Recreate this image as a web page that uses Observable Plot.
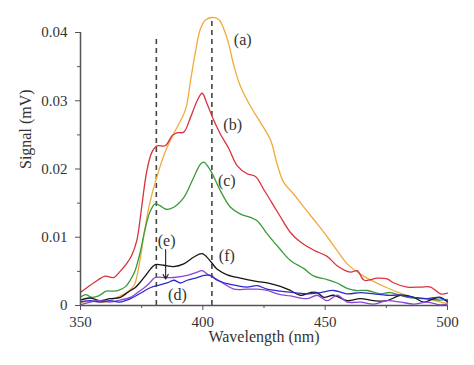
<!DOCTYPE html>
<html>
<head>
<meta charset="utf-8">
<script src="https://cdn.jsdelivr.net/npm/d3@7"></script>
<script src="https://cdn.jsdelivr.net/npm/@observablehq/plot@0.6"></script>
<style>
  html, body { margin: 0; padding: 0; background: #fff; }
  #chart svg { display: block; }
  #chart svg, #chart svg text { font-family: "Liberation Serif", "DejaVu Serif", serif !important; }
</style>
</head>
<body>
<div id="chart"></div>
<script>
// ---- data ----
const xTicks = [350, 400, 450, 500];
const xMinorTicks = [375, 425, 475];
const yTicks = [0, 0.01, 0.02, 0.03, 0.04];
const yMinorTicks = [0.005, 0.015, 0.025, 0.035];

const aWl  = [350, 355, 360, 365, 370, 372, 374, 376, 378, 380.5, 384.6, 388, 392.9, 395, 397, 399, 401, 403.8, 406.5, 408.5, 410.6, 412.7, 415.4, 419.5, 423.6, 427.7, 430.4, 433.1, 437.2, 441.3, 446.7, 451, 455, 459, 464.4, 469.9, 475.3, 480.8, 486.2, 491.7, 497.1, 500];
const aSig = [0.0005, 0.0006, 0.0005, 0.0012, 0.0022, 0.0030, 0.0060, 0.0105, 0.0145, 0.0180, 0.0225, 0.0251, 0.0287, 0.0330, 0.0372, 0.0405, 0.0418, 0.0422, 0.0419, 0.0406, 0.0383, 0.0351, 0.0321, 0.0292, 0.0268, 0.0242, 0.0207, 0.0180, 0.0163, 0.0144, 0.0120, 0.0100, 0.0080, 0.0061, 0.0046, 0.0035, 0.0026, 0.0018, 0.0012, 0.0010, 0.0005, 0.0003];

const bWl  = [350, 353, 357, 360, 363.5, 366.2, 369, 371, 373, 375, 377, 379.1, 381.2, 384.6, 387.5, 389.5, 392.2, 395, 397.7, 399.7, 401.8, 404.5, 407.2, 410.6, 414, 418.1, 421.5, 424.9, 429, 431.7, 435.8, 439.9, 445.4, 450.8, 455, 460.4, 463.1, 466, 471.3, 475.3, 478.1, 483.5, 489, 493.1, 497.1, 500];
const bSig = [0.0019, 0.0027, 0.0037, 0.0043, 0.0041, 0.0050, 0.0062, 0.0074, 0.0095, 0.0144, 0.0195, 0.0224, 0.0234, 0.0234, 0.0249, 0.0253, 0.0254, 0.0276, 0.0300, 0.0311, 0.0295, 0.0271, 0.0251, 0.0230, 0.0205, 0.0193, 0.0189, 0.0170, 0.0146, 0.0130, 0.0107, 0.0093, 0.0081, 0.0072, 0.0058, 0.0049, 0.0051, 0.0037, 0.0040, 0.0039, 0.0033, 0.0027, 0.0027, 0.0027, 0.0017, 0.0018];

const cWl  = [350, 352, 354.6, 357.4, 360.5, 363, 365.5, 368.5, 370.3, 372.3, 374.4, 376.4, 378.5, 380.5, 382.6, 385, 388.1, 392.2, 396.3, 399, 400.4, 403.1, 407.2, 411.3, 415.4, 419.5, 422.2, 426.3, 431.7, 435.8, 441.3, 445.4, 450.8, 454.9, 459, 462.5, 467.2, 472.6, 476.7, 483.5, 490.3, 497.1, 500];
const cSig = [0.0012, 0.0016, 0.0012, 0.0014, 0.0021, 0.0021, 0.0022, 0.0028, 0.0037, 0.0051, 0.0078, 0.0112, 0.0138, 0.0149, 0.0146, 0.0141, 0.0144, 0.0158, 0.0188, 0.0207, 0.0210, 0.0198, 0.0168, 0.0144, 0.0134, 0.0129, 0.0124, 0.0105, 0.0082, 0.0066, 0.0054, 0.0043, 0.0038, 0.0033, 0.0025, 0.0022, 0.0022, 0.0017, 0.0019, 0.0012, 0.0010, 0.0008, 0.0009];

const fWl  = [350, 354, 358, 362, 366.3, 370.4, 372.3, 374.4, 376.4, 378.5, 380.6, 384, 388.1, 392.2, 396.3, 399.7, 402.4, 405.9, 410, 415.4, 420.8, 426.3, 431.7, 435.8, 439.9, 444, 446.7, 449.4, 453.5, 459, 464.4, 469.9, 475.3, 480.8, 486.2, 490.3, 494.4, 497.1, 500];
const fSig = [0.0008, 0.0011, 0.0007, 0.0010, 0.0012, 0.0022, 0.0026, 0.0034, 0.0043, 0.0053, 0.0060, 0.0059, 0.0057, 0.0061, 0.0071, 0.0076, 0.0068, 0.0053, 0.0045, 0.0040, 0.0036, 0.0033, 0.0028, 0.0022, 0.0015, 0.0019, 0.0019, 0.0012, 0.0015, 0.0007, 0.0010, 0.0007, 0.0007, 0.0015, 0.0012, 0.0005, 0.0010, 0.0012, 0.0005];

const eWl  = [350, 354, 358, 362, 366.3, 370.4, 374.5, 376.4, 378.5, 380.5, 384.6, 388.1, 393.6, 397.7, 399.7, 401.8, 404.5, 408.6, 412.7, 418.1, 422.2, 426.3, 430.4, 435.8, 442.7, 446.7, 450.8, 454.9, 459, 464.4, 469.9, 475.3, 480.8, 486.2, 491.7, 497.1, 500];
const eSig = [0.0001, 0.0005, 0.0007, 0.0005, 0.0008, 0.0012, 0.0022, 0.0027, 0.0034, 0.0041, 0.0041, 0.0041, 0.0044, 0.0049, 0.0051, 0.0046, 0.0041, 0.0032, 0.0024, 0.0024, 0.0024, 0.0022, 0.0017, 0.0014, 0.0010, 0.0015, 0.0007, 0.0015, 0.0005, 0.0005, 0.0002, 0.0007, 0.0005, 0.0002, 0.0005, 0.0001, 0.0002];

const dWl  = [350, 354, 358, 362, 366, 370.4, 374.5, 378.5, 382.2, 385.4, 388.1, 390.9, 393.6, 397.7, 400.4, 403.1, 405.9, 410, 414, 418.1, 422.2, 426.3, 431.7, 437.2, 442.7, 448.1, 453.5, 459, 464.4, 469.9, 475.3, 480.8, 486.2, 491.7, 495.8, 500];
const dSig = [0.0005, 0.0007, 0.0005, 0.0007, 0.0005, 0.0010, 0.0018, 0.0026, 0.0030, 0.0033, 0.0037, 0.0033, 0.0037, 0.0041, 0.0044, 0.0044, 0.0037, 0.0032, 0.0029, 0.0027, 0.0029, 0.0024, 0.0021, 0.0019, 0.0017, 0.0019, 0.0022, 0.0017, 0.0019, 0.0017, 0.0015, 0.0015, 0.0012, 0.0010, 0.0012, 0.0007];

const seriesNames  = ["(a)", "(b)", "(c)", "(f)", "(e)", "(d)"];
const seriesColors = ["#f0aa3c", "#d9323e", "#3b9a3b", "#151515", "#8c45dc", "#2b2bcc"];
const seriesWl  = [aWl, bWl, cWl, fWl, eWl, dWl];
const seriesSig = [aSig, bSig, cSig, fSig, eSig, dSig];

// annotations (in data coordinates)
const labelText = ["(a)", "(b)", "(c)", "(f)", "(e)", "(d)"];
const labelWl   = [416.3, 412.2, 409.8, 409.8, 385.2, 389.6];
const labelSig  = [0.0389, 0.0264, 0.0183, 0.0073, 0.0095, 0.0015];

const dashWl  = [381, 403.7];
const dashTop = [0.0395, 0.0422];

const arrowWl = 384.8;
const arrowFrom = 0.0082;
const arrowTo = 0.0039;

// ---- build ----
const rows = [];
seriesNames.forEach((name, i) => {
  seriesWl[i].forEach((w, j) => rows.push({series: name, wl: w, sig: seriesSig[i][j]}));
});
const dashes = dashWl.map((w, i) => ({wl: w, top: dashTop[i]}));
const labels = labelText.map((t, i) => ({t, wl: labelWl[i], sig: labelSig[i]}));

const axisColor = "#555";
const textColor = "#333";
const font = "Liberation Serif";

const chart = Plot.plot({
  width: 474,
  height: 365,
  marginLeft: 80,
  marginRight: 27,
  marginTop: 32,
  marginBottom: 60,
  style: {fontFamily: font, fontSize: "14px", color: textColor, background: "#fff"},
  x: {domain: [350, 500]},
  y: {domain: [0, 0.04]},
  color: {domain: seriesNames, range: seriesColors},
  marks: [
    Plot.ruleX(dashes, {x: "wl", y1: 0, y2: "top", stroke: "#444", strokeWidth: 1.6, strokeDasharray: "5,4"}),
    Plot.line(rows, {x: "wl", y: "sig", z: "series", stroke: "series", strokeWidth: 1.3, curve: "catmull-rom"}),
    Plot.axisX({ticks: xTicks, tickSize: 5, tickPadding: 6, stroke: axisColor, fill: textColor, fontSize: 15, fontFamily: font, label: null, tickFormat: d => String(d)}),
    Plot.axisX({ticks: xMinorTicks, tickSize: 3, stroke: axisColor, label: null, tickFormat: () => ""}),
    Plot.axisY({ticks: yTicks, tickSize: 5, tickPadding: 8, stroke: axisColor, fill: textColor, fontSize: 15, fontFamily: font, label: null, tickFormat: d => d === 0 ? "0" : d.toFixed(2)}),
    Plot.axisY({ticks: yMinorTicks, tickSize: 3, stroke: axisColor, label: null, tickFormat: () => ""}),
    Plot.ruleY([0], {x1: 350, x2: 500, stroke: axisColor, strokeWidth: 1.5}),
    Plot.ruleX([350], {y1: 0, y2: 0.04, stroke: axisColor, strokeWidth: 1.5}),
    Plot.text(["Signal (mV)"], {frameAnchor: "left", rotate: -90, dx: -55, fontSize: 16, fontFamily: font, fill: textColor}),
    Plot.text(["Wavelength (nm)"], {frameAnchor: "bottom", dy: 36, fontSize: 16, fontFamily: font, fill: textColor}),
    Plot.text(labels, {x: "wl", y: "sig", text: "t", fontSize: 16, fontFamily: font, fill: textColor}),
    Plot.arrow([{}], {x1: () => arrowWl, x2: () => arrowWl, y1: () => arrowFrom, y2: () => arrowTo, stroke: "#222", strokeWidth: 1.1, headLength: 7})
  ]
});
document.getElementById("chart").appendChild(chart);
</script>
</body>
</html>
